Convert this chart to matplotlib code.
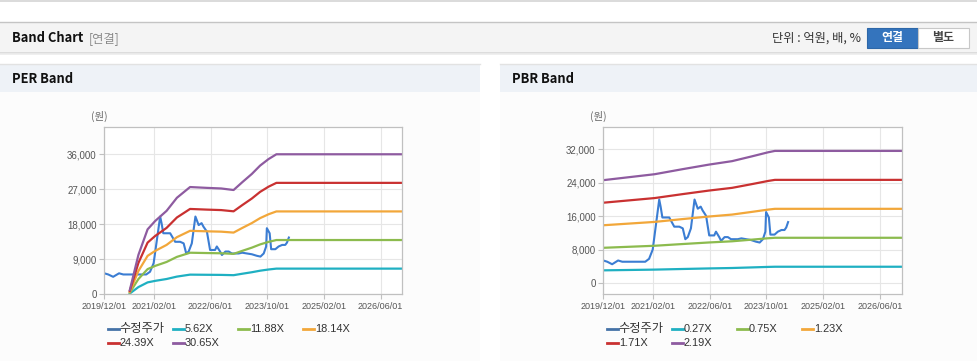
import matplotlib
matplotlib.use("Agg")
import matplotlib.pyplot as plt
from matplotlib.patches import Rectangle
from matplotlib.lines import Line2D
import pandas as pd

plt.rcParams['font.family'] = ['Liberation Sans', 'Noto Sans CJK KR', 'DejaVu Sans']

# adjusted share price (same series on both charts)
price_dates = ["2019-12-01", "2020-01-04", "2020-02-15", "2020-04-06", "2020-05-12",
               "2020-06-25", "2020-09-06", "2020-11-25", "2020-12-28", "2021-01-28",
               "2021-02-25", "2021-03-25", "2021-04-06", "2021-04-21", "2021-05-19",
               "2021-06-19", "2021-08-01", "2021-09-13", "2021-10-13", "2021-11-04",
               "2021-11-25", "2021-12-22", "2022-01-22", "2022-02-19", "2022-03-16",
               "2022-04-01", "2022-05-01", "2022-05-28", "2022-07-10", "2022-07-25",
               "2022-08-22", "2022-09-07", "2022-10-07", "2022-11-04", "2022-12-01",
               "2023-01-28", "2023-02-28", "2023-04-10", "2023-05-22", "2023-07-04",
               "2023-08-04", "2023-09-01", "2023-09-22", "2023-09-28", "2023-10-22",
               "2023-11-04", "2023-12-10", "2024-01-07", "2024-02-07", "2024-03-04",
               "2024-03-19", "2024-04-04"]
price = [5400, 5100, 4500, 5400, 5100,
         5100, 5100, 5100, 5800, 8000,
         14000, 20000, 18300, 15700, 15700,
         15700, 13500, 13500, 13100, 10500,
         11000, 13100, 20000, 17800, 18300,
         17400, 16100, 11400, 11400, 12300,
         11000, 10100, 11000, 11000, 10500,
         10500, 10700, 10500, 10300, 9900,
         9700, 10500, 12300, 17000, 15700,
         11600, 11600, 12300, 12700, 12700,
         13300, 14600]

# earnings per share behind the PER bands
eps_dates = ["2020-07-07", "2020-09-19", "2020-12-07", "2021-02-10", "2021-05-19",
             "2021-08-16", "2021-12-07", "2022-05-01", "2022-09-01", "2022-12-16",
             "2023-02-28", "2023-05-22", "2023-08-01", "2023-10-13", "2023-12-19",
             "2026-12-05"]
eps = [35, 330, 545, 615, 700,
       810, 900, 893, 888, 875,
       940, 1010, 1080, 1135, 1175,
       1175]
per_multiples = [5.62, 11.88, 18.14, 24.39, 30.65]
per_labels = ["5.62X", "11.88X", "18.14X", "24.39X", "30.65X"]

# book value per share behind the PBR bands
bps_dates = ["2019-12-01", "2021-02-13", "2021-10-10", "2022-05-25", "2022-12-10",
             "2023-05-28", "2023-10-16", "2023-12-13", "2026-12-05"]
bps = [11250, 11900, 12450, 12950, 13330, 13850, 14300, 14450, 14450]
pbr_multiples = [0.27, 0.75, 1.23, 1.71, 2.19]
pbr_labels = ["0.27X", "0.75X", "1.23X", "1.71X", "2.19X"]

tick_dates = ["2019/12/01", "2021/02/01", "2022/06/01", "2023/10/01", "2025/02/01", "2026/06/01"]
per_yticks = [0, 9000, 18000, 27000, 36000]
pbr_yticks = [0, 8000, 16000, 24000, 32000]

price_color = "#3b7dd3"
band_colors = ["#1fb0c2", "#8cbb4e", "#f2a73a", "#c93131", "#8e5ba0"]

W, H = 978, 361
fig = plt.figure(figsize=(W / 100, H / 100), dpi=100)
fig.patch.set_facecolor("white")


def rect(x0, y0, x1, y1, z=-10, **kw):
    fig.patches.append(Rectangle((x0 / W, 1 - y1 / H), (x1 - x0) / W, (y1 - y0) / H,
                                 transform=fig.transFigure, zorder=z, **kw))


def hline(x0, x1, y, color, lw=1):
    fig.add_artist(Line2D([x0 / W, x1 / W], [1 - y / H, 1 - y / H], color=color, lw=lw,
                          transform=fig.transFigure, zorder=-5))


def text(x, y, s, **kw):
    fig.text(x / W, 1 - y / H, s, va="center", **kw)


# page chrome
hline(0, W, 0.8, "#d4d4d4", 1.2)
rect(0, 22, W, 52, facecolor="#f4f4f4", edgecolor="none")
hline(0, W, 22.3, "#c4c4c4", 1.0)
hline(0, W, 52.5, "#d6d6d6", 1.2)
hline(0, W, 54, "#ececec", 1.2)
text(12, 38.5, "Band Chart", fontsize=9.3, fontweight="bold", color="#111",
     family=["Noto Sans CJK KR"])
text(89, 38.5, "[연결]", fontsize=8.8, color="#8a8a8a", family=["Noto Sans CJK KR"])
text(861, 38.5, "단위 : 억원, 배, %", fontsize=8.8, color="#333", ha="right",
     family=["Noto Sans CJK KR"])
rect(867, 28, 918, 47.5, z=-4, facecolor="#3474bd", edgecolor="#2d67a8", lw=0.8)
rect(918, 28, 969, 47.5, z=-4, facecolor="white", edgecolor="#c8c8c8", lw=0.8)
text(892.5, 38, "연결", fontsize=8.6, color="white", fontweight="bold", ha="center",
     family=["Noto Sans CJK KR"])
text(943.5, 38, "별도", fontsize=8.6, color="#444", fontweight="bold", ha="center",
     family=["Noto Sans CJK KR"])

for px0, px1, title in [(0, 480, "PER Band"), (500, W, "PBR Band")]:
    rect(px0, 92, px1, H, facecolor="#fcfcfc", edgecolor="none")
    rect(px0, 64, px1, 92, facecolor="#eef2f7", edgecolor="none")
    hline(px0, px1, 63.5, "#e2e2e2", 1.0)
    text(px0 + 12, 79, title, fontsize=9.3, fontweight="bold", color="#111",
         family=["Noto Sans CJK KR"])

xmin, xmax = pd.Timestamp("2019-12-01"), pd.Timestamp("2026-12-05")
p_dates = pd.to_datetime(price_dates)


def make_axes(left, right, ylim, yticks, unit_x):
    ax = fig.add_axes([left / W, 1 - 294.3 / H, (right - left) / W, 167 / H])
    ax.set_facecolor("white")
    ax.set_xlim(xmin, xmax)
    ax.set_ylim(*ylim)
    ax.set_yticks(yticks)
    ax.set_yticklabels([f"{v:,}" for v in yticks])
    ax.set_xticks(pd.to_datetime(tick_dates, format="%Y/%m/%d"))
    ax.set_xticklabels(tick_dates)
    ax.grid(True, color="#e6e6e6", lw=0.8)
    ax.set_axisbelow(True)
    for s in ax.spines.values():
        s.set_color("#c0c0c0")
        s.set_linewidth(0.9)
    ax.tick_params(axis="both", labelcolor="#555", color="#c0c0c0",
                   length=3.5, width=0.8, pad=2)
    ax.tick_params(axis="x", labelsize=6.5)
    ax.tick_params(axis="y", labelsize=7)
    text(unit_x, 116.5, "(원)", fontsize=7.5, color="#666", ha="center",
         family=["Noto Sans CJK KR"])
    return ax


def legend(x0, labels, colors):
    for i, (lab, col) in enumerate(zip(labels, colors)):
        x = x0 + (i % 4) * 65
        y = 329 + (i // 4) * 13.7
        fig.add_artist(Line2D([x / W, (x + 11) / W], [1 - y / H, 1 - y / H], color=col,
                              lw=2, transform=fig.transFigure))
        size = 8.8 if i == 0 else 7.9
        text(x + 12, y, lab, fontsize=size, color="#333",
             family=["Liberation Sans", "Noto Sans CJK KR"])


# PER band
ax1 = make_axes(104.3, 402.3, (0, 42950), per_yticks, 99)
ax1.plot(p_dates, price, color=price_color, lw=1.5)
e_dates = pd.to_datetime(eps_dates)
for m, c in zip(per_multiples, band_colors):
    ax1.plot(e_dates, [m * v for v in eps], color=c, lw=1.6)
legend(107.7, ["수정주가"] + per_labels, ["#4572a7"] + band_colors)

# PBR band
ax2 = make_axes(603.3, 901.7, (-2700, 37300), pbr_yticks, 598)
ax2.plot(p_dates, price, color=price_color, lw=1.5)
b_dates = pd.to_datetime(bps_dates)
for m, c in zip(pbr_multiples, band_colors):
    ax2.plot(b_dates, [m * v for v in bps], color=c, lw=1.6)
legend(606.7, ["수정주가"] + pbr_labels, ["#4572a7"] + band_colors)

fig.savefig("out.png", dpi=100)
